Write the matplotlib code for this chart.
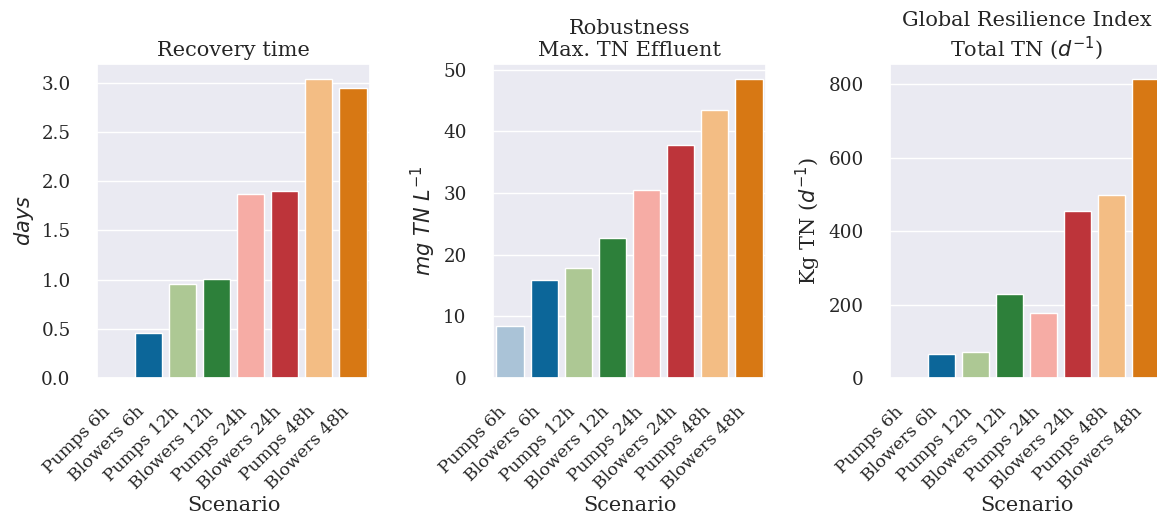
import matplotlib
matplotlib.use("Agg")
import matplotlib.pyplot as plt
from matplotlib.ticker import MultipleLocator
import seaborn as sns
import pandas as pd

scenarios = ["Pumps 6h", "Blowers 6h", "Pumps 12h", "Blowers 12h",
             "Pumps 24h", "Blowers 24h", "Pumps 48h", "Blowers 48h"]
recovery_days = [0.0, 0.46, 0.96, 1.01, 1.87, 1.90, 3.04, 2.95]
max_tn_effluent = [8.4, 15.9, 17.9, 22.75, 30.5, 37.8, 43.5, 48.5]
total_tn = [0, 64, 70, 229, 177, 454, 499, 814]
bar_colors = ["#aac3d7", "#0c6699", "#adc894", "#2d803a",
              "#f6aca5", "#bd343a", "#f3bd84", "#d77814"]

sns.set_theme(style="darkgrid")
plt.rcParams["font.family"] = ["DejaVu Serif"]
plt.rcParams["mathtext.fontset"] = "dejavusans"

df = pd.DataFrame({"Scenario": scenarios, "rec": recovery_days,
                   "rob": max_tn_effluent, "gri": total_tn})

fig = plt.figure(figsize=(11.57, 5.21), dpi=100)
W, H = 1157, 521
lefts = [97, 493, 890]
axes = [fig.add_axes([l / W, (H - 378) / H, 273 / W, 314 / H]) for l in lefts]

panels = [
    ("rec", "Recovery time", "$days$"),
    ("rob", "Robustness\nMax. TN Effluent", "$mg\\ TN\\ L^{-1}$"),
    ("gri", "Global Resilience Index\nTotal TN ($d^{-1}$)", "Kg TN ($d^{-1}$)"),
]

for ax, (col, title, ylab) in zip(axes, panels):
    sns.barplot(data=df, x="Scenario", y=col, hue="Scenario", palette=bar_colors,
                saturation=1, legend=False, ax=ax)
    ax.set_title(title, fontsize=15)
    ax.set_ylabel(ylab, fontsize=15)
    ax.set_xlabel("Scenario", fontsize=15, labelpad=2)
    ax.tick_params(axis="y", labelsize=13.2, pad=13)
    ax.tick_params(axis="x", labelsize=12.5, pad=12)
    plt.setp(ax.get_xticklabels(), rotation=45, ha="right")

axes[2].yaxis.set_major_locator(MultipleLocator(200))

fig.savefig("out.png", dpi=100)
